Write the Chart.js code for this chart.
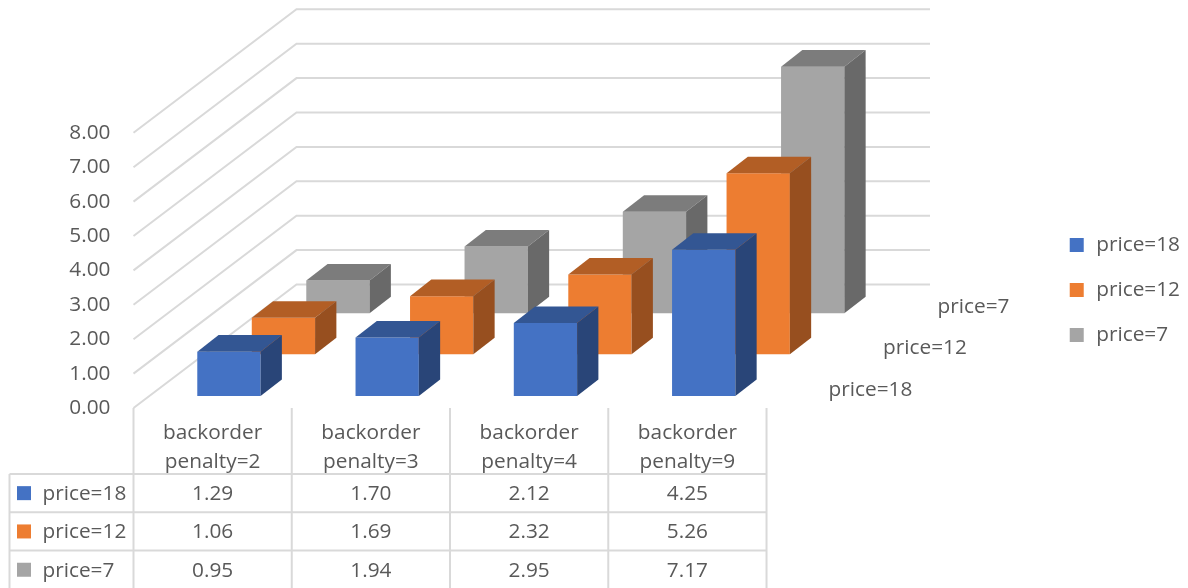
<!DOCTYPE html>
<html>
<head>
<meta charset="utf-8">
<title>Backorder penalty by price</title>
<script src="https://cdn.jsdelivr.net/npm/chart.js@4/dist/chart.umd.min.js"></script>
<style>
    html, body { margin: 0; padding: 0; background: #ffffff; }
    canvas { display: block; }
</style>
</head>
<body>
<canvas id="costChart" width="1188" height="588"></canvas>
<script>
const categories = [['backorder', 'penalty=2'], ['backorder', 'penalty=3'], ['backorder', 'penalty=4'], ['backorder', 'penalty=9']];
const seriesNames = ['price=18', 'price=12', 'price=7'];
const price18 = [1.29, 1.70, 2.12, 4.25];
const price12 = [1.06, 1.69, 2.32, 5.26];
const price7 = [0.95, 1.94, 2.95, 7.17];
const yTicks = [0, 1, 2, 3, 4, 5, 6, 7, 8];

const seriesValues = [price18, price12, price7];

// Face colours per series: front, top, side
const frontColors = ['#4472c4', '#335693', '#294578'];
const orangeColors = ['#ed7d31', '#b25e25', '#974f1f'];
const grayColors = ['#a5a5a5', '#7c7c7c', '#696969'];
const faceColors = [frontColors, orangeColors, grayColors];

const TEXT_COLOR = '#595959';
const LINE_COLOR = '#d9d9d9';
const FONT = "'Open Sans', sans-serif";
const FONT_SIZE = 20.8;

// Oblique projection
const seriesShift = [[16.3, -12], [70.8, -53.7], [125.3, -94.7]];
const barDepth = [21.3, -16.6];
const wallDepth = [163, -123.5];
const wallRight = 930;

// Data table under the plot
const tableLeft = 9.5;
const tableTop = 474;
const rowHeight = 38.3;

function line(ctx, points) {
    ctx.beginPath();
    points.forEach((p, i) => i ? ctx.lineTo(p[0], p[1]) : ctx.moveTo(p[0], p[1]));
    ctx.stroke();
}

function face(ctx, color, points) {
    ctx.fillStyle = color;
    ctx.beginPath();
    points.forEach((p, i) => i ? ctx.lineTo(p[0], p[1]) : ctx.moveTo(p[0], p[1]));
    ctx.closePath();
    ctx.fill();
}

const box3d = {
    id: 'box3d',
    // Side wall, floor and back wall lines sit behind the bars
    beforeDatasetsDraw(chart) {
        const { ctx, chartArea, scales } = chart;
        ctx.save();
        ctx.strokeStyle = LINE_COLOR;
        ctx.lineWidth = 2;
        yTicks.forEach(v => {
            const y = scales.y.getPixelForValue(v);
            const bx = chartArea.left + wallDepth[0];
            const by = y + wallDepth[1];
            line(ctx, [[chartArea.left, y], [bx, by], [wallRight, by]]);
        });
        ctx.restore();
    },
    beforeDatasetDraw(chart, args) {
        const shift = seriesShift[args.index];
        chart.ctx.save();
        chart.ctx.translate(shift[0], shift[1]);
    },
    afterDatasetDraw(chart, args) {
        const { ctx } = chart;
        const colors = faceColors[args.index];
        args.meta.data.forEach(bar => {
            const l = bar.x - bar.width / 2;
            const r = bar.x + bar.width / 2;
            const dx = barDepth[0];
            const dy = barDepth[1];
            face(ctx, colors[1], [[l, bar.y], [l + dx, bar.y + dy], [r + dx, bar.y + dy], [r, bar.y]]);
            face(ctx, colors[2], [[r, bar.y], [r + dx, bar.y + dy], [r + dx, bar.base + dy], [r, bar.base]]);
        });
        ctx.restore();
    },
    afterDraw(chart) {
        const { ctx, chartArea, scales } = chart;
        const columnWidth = chartArea.width / categories.length;
        const tableBottom = chart.height;

        ctx.save();
        // Depth axis labels
        ctx.font = FONT_SIZE + 'px ' + FONT;
        ctx.fillStyle = TEXT_COLOR;
        ctx.textBaseline = 'middle';
        ctx.textAlign = 'left';
        seriesNames.forEach((name, i) => {
            const baseY = scales.y.getPixelForValue(0) + seriesShift[i][1];
            ctx.fillText(name, chartArea.right + seriesShift[i][0] + 45.7, baseY - 6);
        });

        // Table grid
        ctx.strokeStyle = LINE_COLOR;
        ctx.lineWidth = 2;
        for (let i = 0; i <= categories.length; i++) {
            const x = chartArea.left + i * columnWidth;
            line(ctx, [[x, chartArea.bottom], [x, tableBottom]]);
        }
        line(ctx, [[tableLeft, tableTop], [tableLeft, tableBottom]]);
        seriesNames.forEach((name, i) => {
            const y = tableTop + i * rowHeight;
            line(ctx, [[tableLeft, y], [chartArea.right, y]]);
        });

        // Table rows
        seriesNames.forEach((name, i) => {
            const midY = tableTop + (i + 0.5) * rowHeight;
            ctx.fillStyle = faceColors[i][0];
            ctx.fillRect(17, midY - 7, 14, 14);
            ctx.fillStyle = TEXT_COLOR;
            ctx.textAlign = 'left';
            ctx.fillText(name, 42.5, midY + 1);
            ctx.textAlign = 'center';
            seriesValues[i].forEach((v, j) => {
                ctx.fillText(v.toFixed(2), scales.x.getPixelForValue(j), midY + 1);
            });
        });
        ctx.restore();
    }
};

const datasets = seriesNames.map((name, i) => ({
    label: name,
    data: seriesValues[i],
    backgroundColor: faceColors[i][0],
    borderWidth: 0,
    clip: false,
    grouped: false,
    barPercentage: 0.4,
    categoryPercentage: 1
}));

new Chart(document.getElementById('costChart'), {
    type: 'bar',
    data: { labels: categories, datasets: datasets },
    plugins: [box3d],
    options: {
        responsive: false,
        animation: false,
        layout: { autoPadding: false, padding: { top: 0, left: 0, right: -2, bottom: 8 } },
        scales: {
            x: {
                grid: { display: false, drawTicks: false },
                border: { display: false },
                afterFit(scale) { scale.height = 172; },
                ticks: {
                    color: TEXT_COLOR,
                    font: { family: FONT, size: FONT_SIZE, lineHeight: 1.39 },
                    padding: 10.5,
                    maxRotation: 0,
                    autoSkip: false
                }
            },
            y: {
                min: 0,
                max: 10.83,
                grid: { display: false, drawTicks: false },
                border: { display: false },
                afterFit(scale) { scale.width = 133.5; },
                afterBuildTicks(scale) { scale.ticks = yTicks.map(v => ({ value: v })); },
                ticks: {
                    color: TEXT_COLOR,
                    font: { family: FONT, size: FONT_SIZE },
                    padding: 23,
                    callback: v => v.toFixed(2)
                }
            },
            // Empty axis that holds the space between the plot and the legend
            gap: {
                type: 'linear',
                position: 'right',
                grid: { display: false },
                border: { display: false },
                ticks: { display: false },
                afterFit(scale) { scale.width = 279; }
            }
        },
        plugins: {
            tooltip: { enabled: false },
            legend: {
                position: 'right',
                labels: {
                    color: TEXT_COLOR,
                    font: { family: FONT, size: FONT_SIZE },
                    boxWidth: 14,
                    boxHeight: 14,
                    padding: 24.2,
                    generateLabels(chart) {
                        return chart.data.datasets.map((ds, i) => ({
                            text: '\u200a' + ds.label,
                            fillStyle: ds.backgroundColor,
                            strokeStyle: ds.backgroundColor,
                            lineWidth: 0,
                            datasetIndex: i,
                            fontColor: TEXT_COLOR
                        }));
                    }
                }
            }
        }
    }
});
</script>
</body>
</html>
